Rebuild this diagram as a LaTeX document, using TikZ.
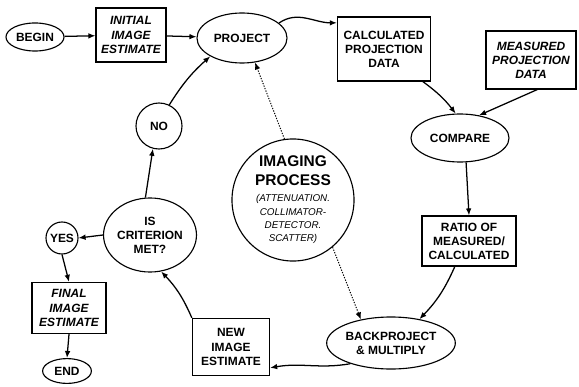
\documentclass[tikz,border=0pt]{standalone}
\usepackage{fontspec}
\setmainfont{Liberation Sans}
\usetikzlibrary{shapes.geometric,arrows.meta}

\tikzset{
  oval/.style={shape=ellipse, draw, line width=0.8pt, inner sep=0pt, align=center,
    font=\fontsize{8.5}{10}\selectfont\bfseries},
  ring/.style={shape=circle, draw, line width=0.8pt, inner sep=0pt, align=center,
    font=\fontsize{8.5}{10}\selectfont\bfseries},
  stepbox/.style={shape=rectangle, draw, line width=0.8pt, inner sep=2pt, align=center,
    font=\fontsize{8.5}{10}\selectfont\bfseries},
  given/.style={stepbox, font=\fontsize{8.5}{10}\selectfont\bfseries\itshape},
  flow/.style={-{Latex[length=5pt,width=4pt]}, line width=0.9pt},
  hint/.style={flow, densely dotted, line width=0.7pt}
}

\begin{document}
\begin{tikzpicture}[x=0.025cm, y=0.025cm]
    \useasboundingbox (0,0) rectangle (579,-387);

    \node at (35,-37) (begin) [oval, minimum width=1.45cm, minimum height=0.7cm] {BEGIN};
    \node at (131,-35) (initial) [given, minimum width=1.75cm, minimum height=1.35cm] {INITIAL\\IMAGE\\ESTIMATE};
    \node at (242,-38) (project) [oval, minimum width=2.25cm, minimum height=1.25cm] {PROJECT};
    \node at (384,-49) (calc) [stepbox, minimum width=2.33cm, minimum height=1.6cm] {CALCULATED\\PROJECTION\\DATA};
    \node at (531,-60) (measured) [given, minimum width=2.25cm, minimum height=1.45cm] {MEASURED\\PROJECTION\\DATA};
    \node at (460,-138) (compare) [oval, minimum width=2.45cm, minimum height=1.2cm] {COMPARE};
    \node at (469,-241) (ratio) [stepbox, minimum width=2.35cm, minimum height=1.25cm] {RATIO OF\\MEASURED/\\CALCULATED};
    \node at (391,-343) (backproject) [oval, minimum width=2.9cm, minimum height=1.3cm] {BACKPROJECT\\\& MULTIPLY};
    \node at (231,-347) (new) [stepbox, minimum width=1.93cm, minimum height=1.43cm] {NEW\\IMAGE\\ESTIMATE};
    \node at (150,-235) (criterion) [oval, minimum width=2.15cm, minimum height=1.85cm] {IS\\CRITERION\\MET?};
    \node at (159,-126) (no) [ring, minimum size=1.15cm] {NO};
    \node at (62,-238) (yes) [ring, minimum size=0.8cm] {YES};
    \node at (69,-308) (final) [given, minimum width=1.85cm, minimum height=1.28cm] {FINAL\\IMAGE\\ESTIMATE};
    \node at (67,-371) (end) [oval, minimum width=1.22cm, minimum height=0.62cm] {END};

    \node at (293,-200) (imaging) [ring, minimum size=3.05cm, font=\fontsize{11}{13.5}\selectfont\bfseries]
      {IMAGING\\PROCESS\\[-2pt]
       {\fontsize{7}{9}\selectfont\mdseries\itshape (ATTENUATION.}\\[-4pt]
       {\fontsize{7}{9}\selectfont\mdseries\itshape COLLIMATOR-}\\[-4pt]
       {\fontsize{7}{9}\selectfont\mdseries\itshape DETECTOR.}\\[-4pt]
       {\fontsize{7}{9}\selectfont\mdseries\itshape SCATTER)}};

    % main loop
    \draw[flow] (begin) -- (initial);
    \draw[flow] (initial) -- (project);
    \draw[flow] (project.22) to[out=35, in=180] (calc.151);
    \draw[flow] (calc.-40) to[bend left=8] (compare.100);
    \draw[flow] (measured.-78) -- (compare.50);
    \draw[flow] (compare.-76) -- (ratio.north);
    \draw[flow] (ratio.-119) to[bend left=10] (backproject.40);
    \draw[flow] (backproject.207) to[out=190, in=10] (new.-28);
    \draw[flow] (new.north west) to[bend right=10] (criterion.-73);
    \draw[flow] (criterion.97) -- (no.-105);
    \draw[flow] (no.64) to[bend left=8] (project.210);

    % exit
    \draw[flow] (criterion.west) -- (yes.east);
    \draw[flow] (yes.south) -- (final.north);
    \draw[flow] (final.south) -- (end.north);

    % imaging process
    \draw[hint] (imaging.98) -- (project.-62);
    \draw[hint] (imaging.-50) -- (backproject.142);

\end{tikzpicture}
\end{document}
